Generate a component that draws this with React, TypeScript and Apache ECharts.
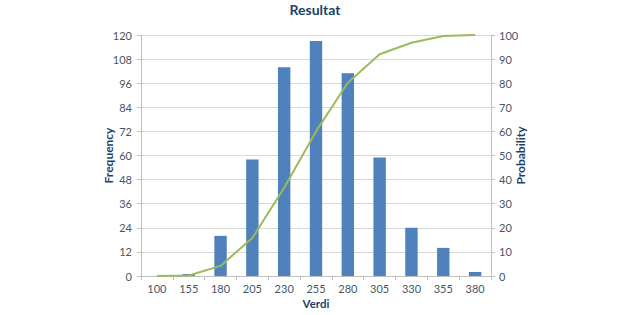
import React, { useEffect, useRef } from "react";
import * as echarts from "echarts";

const categories = ["100", "155", "180", "205", "230", "255", "280", "305", "330", "355", "380"];
const frequency = [0, 1, 20, 58, 104, 117, 101, 59, 24, 14, 2];
const probability = [0, 0.2, 4.2, 15.8, 36.6, 60, 80.2, 92, 96.8, 99.6, 100];

const FONT = "Lato";
const LABEL = "#4a5566";
const NAME = "#1F3F6B";

export default function App() {
  const ref = useRef<HTMLDivElement>(null);
  useEffect(() => {
    const chart = echarts.init(ref.current!, undefined, { renderer: "svg" });
    chart.setOption({
      animation: false,
      textStyle: { fontFamily: FONT },
      title: {
        text: "Resultat",
        left: "center",
        top: 2,
        padding: 0,
        textStyle: { fontFamily: FONT, fontSize: 14, fontWeight: "bold", color: NAME },
      },
      grid: { left: 141, right: 139, top: 35, bottom: 39 },
      xAxis: {
        type: "category",
        data: categories,
        name: "Verdi",
        nameLocation: "middle",
        nameGap: 21,
        nameMoveOverlap: false,
        nameTextStyle: { fontFamily: FONT, fontSize: 11.5, fontWeight: "bold", color: NAME },
        axisLine: { lineStyle: { color: "#BFBFBF" } },
        axisTick: { show: true, length: 4, lineStyle: { color: "#BFBFBF" } },
        axisLabel: { fontFamily: FONT, fontSize: 11, color: LABEL, margin: 7 },
      },
      yAxis: [
        {
          type: "value",
          min: 0,
          max: 120,
          interval: 12,
          name: "Frequency",
          nameLocation: "middle",
          nameGap: 27,
          nameMoveOverlap: false,
          nameTextStyle: { fontFamily: FONT, fontSize: 12, fontWeight: "bold", color: NAME },
          axisLine: { show: true, lineStyle: { color: "#BFBFBF" } },
          axisTick: { show: true, length: 4, lineStyle: { color: "#BFBFBF" } },
          axisLabel: { fontFamily: FONT, fontSize: 11, color: LABEL, margin: 9 },
          splitLine: { lineStyle: { color: "#D9D9D9" } },
        },
        {
          type: "value",
          min: 0,
          max: 100,
          interval: 10,
          name: "Probability",
          nameLocation: "middle",
          nameGap: 23,
          nameRotate: 90,
          nameMoveOverlap: false,
          nameTextStyle: { fontFamily: FONT, fontSize: 12, fontWeight: "bold", color: NAME },
          axisLine: { show: true, lineStyle: { color: "#BFBFBF" } },
          axisTick: { show: true, length: 4, lineStyle: { color: "#BFBFBF" } },
          axisLabel: { fontFamily: FONT, fontSize: 11, color: LABEL, margin: 8 },
          splitLine: { show: false },
        },
      ],
      series: [
        {
          type: "bar",
          data: frequency,
          barWidth: "39%",
          itemStyle: { color: "#4F81BD" },
        },
        {
          type: "line",
          yAxisIndex: 1,
          data: probability,
          symbol: "none",
          lineStyle: { color: "#9BBB59", width: 2 },
        },
      ],
    });
    return () => chart.dispose();
  }, []);
  return <div ref={ref} style={{ width: 630, height: 315, position: "absolute", left: 0, top: 0, background: "#fff" }} />;
}
